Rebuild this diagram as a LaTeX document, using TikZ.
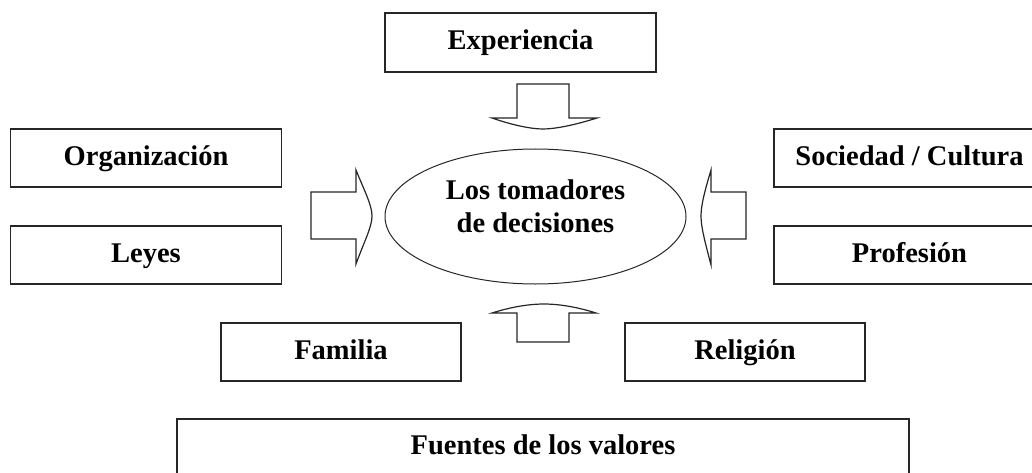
\documentclass[tikz,border=0pt]{standalone}
\usepackage{fontspec}
\setmainfont{Liberation Serif}
\usetikzlibrary{shapes.geometric}
\begin{document}
\begin{tikzpicture}[x=1pt,y=-1pt,
  box/.style={draw=black!85, line width=1.3pt, rectangle, minimum width=271pt, minimum height=58pt, inner sep=0pt,
    font=\fontsize{28.5}{33}\selectfont\bfseries, text height=20pt, text depth=5.5pt},
  lbl/.style={font=\fontsize{28.5}{33}\selectfont\bfseries, inner sep=0pt, align=center},
  blockarrow/.style={draw=black!85, line width=1.2pt, fill=white, line join=miter}]
\useasboundingbox (0,0) rectangle (1032,473);
\clip (0,0) rectangle (1032,473);
% boxes
\node[box, minimum height=59pt] (exp) at (520.5,42.5) {Experiencia};
\node[box] (org) at (146,158) {Organización};
\node[box] (ley) at (146,255) {Leyes};
\node[box] (soc) at (909.5,158) {Sociedad / Cultura};
\node[box] (pro) at (909.5,255) {Profesión};
\node[box, minimum width=240pt] (fam) at (341,352) {Familia};
\node[box, minimum width=240pt] (rel) at (745,352) {Religión};
\node[box, minimum width=732pt, minimum height=56pt] (fue) at (543,447) {Fuentes de los valores};
% centre
\node[draw=black!85, line width=1pt, ellipse, minimum width=301pt, minimum height=135pt] (dm) at (535.5,216.5) {};
\node[lbl] (dmtext) at (535.5,206.5) {Los tomadores\\de decisiones};
% block arrows
\draw[blockarrow] (517,84) -- (569,84) -- (569,118) -- (597,118)
  .. controls (575,125) and (555,129) .. (543,129)
  .. controls (531,129) and (512,125) .. (492,118) -- (517,118) -- cycle;
\draw[blockarrow] (517,342) -- (569,342) -- (569,313) -- (596,313)
  .. controls (574,306) and (556,304) .. (544,304)
  .. controls (532,304) and (514,306) .. (492,313) -- (517,313) -- cycle;
\draw[blockarrow] (311,192) -- (356,192) -- (356,170)
  .. controls (364,190) and (372,205) .. (372,216)
  .. controls (372,227) and (364,242) .. (356,264) -- (356,239) -- (311,239) -- cycle;
\draw[blockarrow] (746,192) -- (711,192) -- (711,170)
  .. controls (705,190) and (701,205) .. (701,216)
  .. controls (701,227) and (705,242) .. (711,265) -- (711,239) -- (746,239) -- cycle;
\end{tikzpicture}
\end{document}
